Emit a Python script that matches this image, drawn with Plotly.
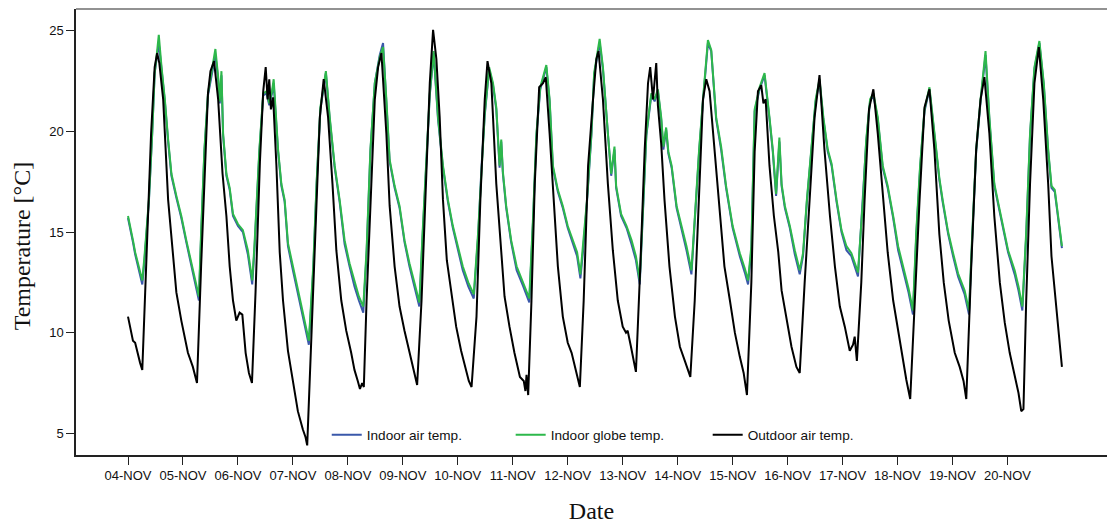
import plotly.graph_objects as go

# ---- data (days since 04-NOV 00:00) ----
tick_labels = ["04-NOV", "05-NOV", "06-NOV", "07-NOV", "08-NOV", "09-NOV", "10-NOV", "11-NOV",
               "12-NOV", "13-NOV", "14-NOV", "15-NOV", "16-NOV", "17-NOV", "18-NOV", "19-NOV", "20-NOV"]
tick_days = list(range(17))
y_ticks = [5, 10, 15, 20, 25]

out_t = [0.00, 0.05, 0.09, 0.13, 0.18, 0.22, 0.26, 0.33, 0.42, 0.485, 0.53, 0.57, 0.64, 0.73, 0.81, 0.88, 0.97,
         1.00, 1.09, 1.18, 1.255, 1.33, 1.39, 1.455, 1.50, 1.565, 1.64, 1.72, 1.79, 1.85, 1.91, 1.97,
         2.03, 2.08, 2.14, 2.20, 2.255, 2.32, 2.40, 2.46, 2.505, 2.54, 2.57, 2.60, 2.64, 2.70, 2.76, 2.82, 2.91,
         3.00, 3.09, 3.18, 3.23, 3.26, 3.34, 3.43, 3.49, 3.56, 3.64, 3.72, 3.79, 3.88, 3.97,
         4.06, 4.12, 4.18, 4.22, 4.26, 4.29, 4.34, 4.41, 4.49, 4.55, 4.61, 4.70, 4.76, 4.85, 4.94,
         5.03, 5.12, 5.18, 5.26, 5.34, 5.42, 5.49, 5.55, 5.61, 5.67, 5.73, 5.80, 5.88, 5.97,
         6.06, 6.155, 6.20, 6.25, 6.34, 6.41, 6.49, 6.54, 6.61, 6.70, 6.79, 6.85, 6.94,
         7.03, 7.13, 7.20, 7.23, 7.25, 7.28, 7.34, 7.40, 7.48, 7.55, 7.60, 7.67, 7.74, 7.82, 7.91,
         8.00, 8.07, 8.13, 8.22, 8.29, 8.37, 8.46, 8.52, 8.56, 8.64, 8.73, 8.82, 8.91,
         9.00, 9.06, 9.09, 9.15, 9.24, 9.32, 9.40, 9.46, 9.50, 9.55, 9.61, 9.64, 9.70, 9.76, 9.85, 9.95,
         10.04, 10.13, 10.23, 10.31, 10.39, 10.46, 10.52, 10.58, 10.67, 10.76, 10.85, 10.95,
         11.04, 11.13, 11.20, 11.26, 11.34, 11.40, 11.46, 11.52, 11.56, 11.60, 11.67, 11.75, 11.83, 11.89, 11.98,
         12.07, 12.16, 12.22, 12.31, 12.40, 12.49, 12.58, 12.67, 12.77, 12.86, 12.95,
         13.04, 13.13, 13.19, 13.22, 13.26, 13.34, 13.40, 13.48, 13.56, 13.64, 13.73, 13.82, 13.92,
         14.01, 14.10, 14.16, 14.23, 14.31, 14.40, 14.49, 14.58, 14.67, 14.76, 14.84, 14.93,
         15.04, 15.13, 15.20, 15.25, 15.34, 15.43, 15.51, 15.58, 15.67, 15.76, 15.86, 15.95,
         16.04, 16.13, 16.20, 16.25, 16.29, 16.34, 16.41, 16.49, 16.57, 16.65, 16.74, 16.80, 16.86, 16.92, 16.99]
out_v = [10.8, 10.1, 9.6, 9.5, 8.9, 8.5, 8.15, 13.3, 19.9, 23.2, 23.9, 23.4, 21.6, 16.6, 14.1, 12.0, 10.6,
         10.2, 9.0, 8.3, 7.5, 13.3, 17.4, 21.9, 23.0, 23.5, 21.6, 17.9, 15.8, 13.3, 11.6, 10.6,
         11.0, 10.9, 9.0, 8.0, 7.5, 12.0, 18.5, 22.0, 23.2, 21.6, 22.6, 21.1, 21.7, 18.3, 14.0, 11.6, 9.1,
         7.65, 6.1, 5.2, 4.8, 4.4, 10.0, 16.6, 20.7, 22.6, 20.7, 17.4, 14.1, 11.6, 10.1,
         9.0, 8.15, 7.6, 7.2, 7.5, 7.3, 11.6, 16.6, 21.6, 23.2, 23.9, 19.9, 16.3, 13.3, 11.3,
         10.1, 9.0, 8.3, 7.4, 11.6, 17.4, 22.4, 25.05, 23.6, 20.7, 16.6, 13.6, 12.0, 10.3,
         9.1, 8.15, 7.6, 7.3, 10.8, 16.6, 21.6, 23.5, 22.4, 17.4, 14.1, 11.8, 10.3,
         9.0, 7.8, 7.6, 7.1, 7.9, 6.9, 11.6, 17.4, 22.2, 22.4, 22.7, 19.9, 16.6, 13.3, 10.8,
         9.5, 9.0, 8.3, 7.3, 11.6, 18.3, 21.6, 23.6, 24.0, 21.6, 17.4, 14.1, 11.6,
         10.3, 10.0, 10.1, 9.3, 8.05, 13.3, 19.1, 22.4, 23.2, 21.6, 23.4, 21.3, 19.4, 16.6, 13.3, 10.8,
         9.3, 8.6, 7.8, 11.6, 17.4, 21.6, 22.6, 22.0, 19.1, 16.1, 13.3, 11.6,
         10.0, 8.8, 8.0, 6.9, 12.5, 19.0, 22.0, 22.3, 21.4, 21.6, 18.3, 15.8, 14.0, 12.1, 10.8,
         9.3, 8.3, 8.0, 12.5, 16.6, 20.7, 22.8, 19.1, 15.8, 13.3, 11.3,
         10.3, 9.1, 9.4, 9.8, 8.6, 12.5, 16.6, 21.1, 22.1, 19.9, 16.9, 14.0, 11.6,
         10.1, 8.5, 7.65, 6.7, 11.6, 16.6, 21.2, 22.1, 19.1, 14.9, 12.5, 10.6,
         9.0, 8.3, 7.6, 6.7, 13.3, 19.1, 21.6, 22.7, 19.9, 15.8, 12.5, 10.5,
         9.0, 7.8, 7.0, 6.1, 6.2, 11.6, 17.4, 22.4, 24.2, 21.6, 17.4, 13.8, 12.0, 10.0, 8.3]

glb_t = [0.00, 0.05, 0.09, 0.13, 0.18, 0.22, 0.26, 0.30, 0.38, 0.44, 0.485, 0.53, 0.56, 0.61, 0.67, 0.73, 0.79, 0.88, 0.97,
         1.06, 1.15, 1.22, 1.29, 1.33, 1.39, 1.455, 1.52, 1.59, 1.64, 1.67, 1.70, 1.73, 1.79, 1.85, 1.91, 2.00,
         2.09, 2.18, 2.26, 2.30, 2.39, 2.46, 2.52, 2.57, 2.62, 2.65, 2.73, 2.79, 2.85, 2.91, 3.00,
         3.09, 3.18, 3.24, 3.29, 3.37, 3.43, 3.50, 3.60, 3.67, 3.76, 3.85, 3.94,
         4.03, 4.12, 4.20, 4.28, 4.34, 4.41, 4.49, 4.58, 4.64, 4.70, 4.76, 4.85, 4.94,
         5.03, 5.12, 5.21, 5.30, 5.36, 5.43, 5.49, 5.56, 5.64, 5.73, 5.82, 5.91,
         6.00, 6.09, 6.19, 6.29, 6.37, 6.43, 6.49, 6.57, 6.64, 6.70, 6.76, 6.79, 6.82, 6.88, 6.97,
         7.07, 7.19, 7.30, 7.37, 7.43, 7.50, 7.61, 7.67, 7.73, 7.82, 7.91,
         8.00, 8.09, 8.17, 8.23, 8.28, 8.35, 8.43, 8.48, 8.58, 8.64, 8.73, 8.79, 8.85, 8.88, 8.97,
         9.07, 9.16, 9.24, 9.31, 9.37, 9.43, 9.52, 9.58, 9.64, 9.70, 9.74, 9.79, 9.83, 9.89, 9.98,
         10.07, 10.16, 10.25, 10.31, 10.39, 10.46, 10.55, 10.61, 10.70, 10.79, 10.88, 11.00,
         11.13, 11.22, 11.28, 11.34, 11.40, 11.49, 11.58, 11.67, 11.73, 11.79, 11.85, 11.89, 11.95,
         12.04, 12.13, 12.22, 12.28, 12.35, 12.43, 12.51, 12.58, 12.65, 12.73, 12.80, 12.89, 12.98,
         13.07, 13.16, 13.28, 13.37, 13.43, 13.50, 13.56, 13.64, 13.73, 13.82, 13.92,
         14.01, 14.10, 14.20, 14.28, 14.34, 14.41, 14.49, 14.58, 14.67, 14.76, 14.82, 14.92,
         15.01, 15.10, 15.22, 15.30, 15.36, 15.43, 15.51, 15.60, 15.67, 15.76, 15.82, 15.92,
         16.01, 16.13, 16.20, 16.27, 16.34, 16.41, 16.49, 16.58, 16.66, 16.74, 16.80, 16.86, 16.92, 16.99]
glb_v = [15.8, 15.2, 14.6, 14.0, 13.45, 13.0, 12.6, 13.8, 16.6, 19.9, 22.9, 24.0, 24.8, 23.2, 21.6, 19.6, 17.9, 16.8, 15.8,
         14.6, 13.45, 12.6, 11.8, 15.0, 19.1, 21.9, 22.9, 24.1, 22.7, 21.5, 23.0, 19.9, 17.9, 17.2, 15.9, 15.4,
         15.1, 14.1, 12.6, 14.3, 19.1, 21.9, 22.0, 21.4, 22.0, 22.6, 19.1, 17.4, 16.6, 14.45, 13.3,
         12.1, 11.0, 10.2, 9.6, 13.3, 17.4, 21.2, 23.0, 20.7, 18.3, 16.6, 14.6,
         13.45, 12.5, 11.8, 11.3, 14.1, 19.1, 22.4, 23.7, 24.2, 21.6, 18.6, 17.3, 16.3,
         14.6, 13.45, 12.5, 11.5, 15.0, 19.1, 21.9, 24.0, 20.7, 18.3, 16.6, 15.3,
         14.3, 13.3, 12.5, 11.9, 15.0, 18.3, 20.9, 23.2, 22.4, 21.2, 18.3, 19.6, 18.0, 16.3, 14.6,
         13.3, 12.5, 11.7, 15.8, 19.9, 22.2, 23.3, 21.6, 18.3, 17.1, 16.3,
         15.3, 14.6, 14.0, 12.9, 14.3, 16.6, 19.9, 22.9, 24.6, 23.2, 19.9, 17.9, 19.25, 17.3, 15.9,
         15.3, 14.6, 13.8, 12.6, 16.6, 19.9, 21.9, 21.6, 22.1, 20.7, 19.25, 20.2, 19.0, 18.3, 16.3,
         15.3, 14.3, 13.1, 15.9, 19.1, 21.6, 24.55, 24.06, 20.7, 19.25, 17.3, 15.3,
         13.95, 13.2, 12.6, 14.3, 21.1, 22.2, 22.9, 20.7, 19.1, 16.9, 19.7, 17.4, 16.3,
         15.3, 14.1, 13.1, 13.95, 16.6, 19.1, 21.6, 22.6, 20.7, 19.1, 18.4, 16.6, 15.1,
         14.3, 13.95, 13.0, 16.6, 19.6, 21.6, 21.9, 20.7, 18.3, 17.3, 15.8,
         14.3, 13.3, 12.2, 11.1, 15.0, 18.3, 21.1, 22.2, 19.9, 17.7, 16.6, 15.0,
         13.95, 12.95, 12.1, 11.1, 15.0, 19.1, 21.6, 24.0, 20.7, 17.4, 16.6, 15.3,
         14.1, 13.1, 12.3, 11.3, 15.0, 19.9, 23.2, 24.5, 22.4, 19.1, 17.3, 17.1, 15.8, 14.3]
air_v = [15.7, 15.1, 14.5, 13.9, 13.3, 12.8, 12.4, 13.6, 16.5, 19.9, 22.9, 23.8, 24.4, 23.1, 21.5, 19.5, 17.8, 16.7, 15.7,
         14.5, 13.3, 12.4, 11.6, 14.8, 19.0, 21.8, 22.8, 23.8, 22.6, 21.4, 22.8, 19.8, 17.8, 17.1, 15.8, 15.3,
         15.0, 13.9, 12.4, 14.1, 19.0, 21.8, 21.9, 21.3, 21.9, 22.4, 19.0, 17.3, 16.5, 14.3, 13.1,
         11.9, 10.8, 10.0, 9.4, 13.1, 17.3, 21.1, 22.9, 20.6, 18.2, 16.5, 14.4,
         13.3, 12.3, 11.6, 11.0, 13.9, 19.0, 22.4, 23.8, 24.4, 21.6, 18.5, 17.2, 16.2,
         14.5, 13.3, 12.3, 11.3, 14.8, 19.0, 21.8, 23.9, 20.6, 18.2, 16.5, 15.2,
         14.2, 13.1, 12.3, 11.7, 14.8, 18.2, 20.8, 23.1, 22.3, 21.1, 18.2, 19.5, 17.9, 16.2, 14.5,
         13.1, 12.3, 11.5, 15.6, 19.8, 22.1, 23.2, 21.5, 18.2, 17.0, 16.2,
         15.2, 14.5, 13.8, 12.7, 14.1, 16.5, 19.8, 22.8, 24.4, 23.1, 19.8, 17.8, 19.1, 17.2, 15.8,
         15.2, 14.4, 13.6, 12.4, 16.5, 19.8, 21.8, 21.5, 22.0, 20.6, 19.1, 20.1, 18.9, 18.2, 16.2,
         15.2, 14.1, 12.9, 15.7, 19.0, 21.5, 24.4, 24.0, 20.6, 19.1, 17.2, 15.2,
         13.8, 13.0, 12.4, 14.1, 21.0, 22.1, 22.8, 20.6, 19.0, 16.8, 19.5, 17.3, 16.2,
         15.2, 13.9, 12.9, 13.8, 16.5, 19.0, 21.5, 22.5, 20.6, 19.0, 18.3, 16.5, 15.0,
         14.1, 13.8, 12.8, 16.5, 19.5, 21.5, 21.8, 20.6, 18.2, 17.2, 15.7,
         14.1, 13.1, 12.0, 10.9, 14.8, 18.2, 21.0, 22.1, 19.8, 17.6, 16.5, 14.9,
         13.8, 12.8, 11.9, 10.9, 14.8, 19.0, 21.5, 23.8, 20.6, 17.3, 16.5, 15.2,
         14.0, 12.9, 12.1, 11.1, 14.8, 19.8, 23.1, 24.4, 22.3, 19.0, 17.2, 17.0, 15.7, 14.2]

names = ["Indoor air temp.", "Indoor globe temp.", "Outdoor air temp."]
colors = ["#3a58aa", "#2db84b", "#000000"]

fig = go.Figure()
fig.add_trace(go.Scatter(x=glb_t, y=air_v, mode="lines", name=names[0],
                         line=dict(color=colors[0], width=2), legend="legend"))
fig.add_trace(go.Scatter(x=glb_t, y=glb_v, mode="lines", name=names[1],
                         line=dict(color=colors[1], width=2), legend="legend2"))
fig.add_trace(go.Scatter(x=out_t, y=out_v, mode="lines", name=names[2],
                         line=dict(color=colors[2], width=2), legend="legend3"))

leg_common = dict(orientation="h", yanchor="middle", y=0.045, xanchor="left",
                  bgcolor="rgba(0,0,0,0)", font=dict(family="Liberation Sans, Arial", size=13.6, color="#111"))
fig.update_layout(
    width=1107, height=524,
    margin=dict(l=76, r=0, t=9, b=69),
    paper_bgcolor="white", plot_bgcolor="white",
    showlegend=True,
    legend=dict(x=0.2432, **leg_common),
    legend2=dict(x=0.4216, **leg_common),
    legend3=dict(x=0.6127, **leg_common),
    xaxis=dict(range=[-0.946, 17.81], tickvals=tick_days, ticktext=tick_labels,
               showgrid=False, zeroline=False, showline=True, linecolor="#222", linewidth=1.5,
               ticks="outside", ticklen=8, tickwidth=1.3, tickcolor="#222",
               tickfont=dict(family="Liberation Sans, Arial", size=13, color="#111"),
               title=dict(text="Date", standoff=22,
                          font=dict(family="Liberation Serif, Times New Roman", size=24, color="#111"))),
    yaxis=dict(range=[3.92, 26.09], tickvals=y_ticks,
               showgrid=False, zeroline=False, showline=True, linecolor="#222", linewidth=1.5,
               ticks="outside", ticklen=8, tickwidth=1.3, tickcolor="#222",
               tickfont=dict(family="Liberation Sans, Arial", size=13, color="#111")),
    annotations=[dict(text="Temperature [°C]", textangle=-90, xref="paper", yref="paper",
                      x=-0.0524, y=0.47, xanchor="center", yanchor="middle", showarrow=False,
                      font=dict(family="Liberation Serif, Times New Roman", size=24, color="#111"))],
    shapes=[dict(type="line", xref="paper", yref="paper", x0=0, x1=1, y0=1, y1=1,
                 line=dict(color="#6e6e6e", width=1.5))],
)
fig.write_html("out.html")
